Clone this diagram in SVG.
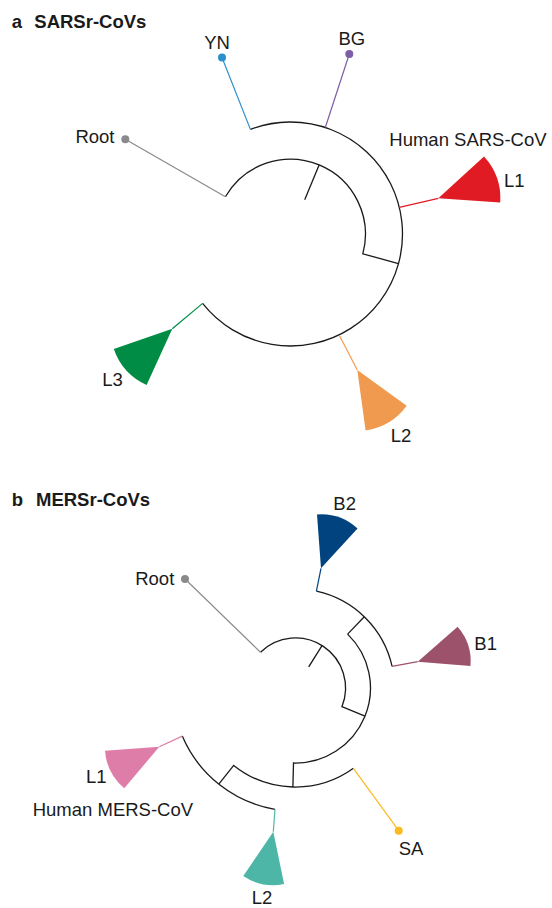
<svg xmlns="http://www.w3.org/2000/svg" width="552" height="908" viewBox="0 0 552 908">
<style>
text{font-family:"Liberation Sans",Arial,sans-serif;font-size:18.5px;fill:#1a1a1a}
.title{font-weight:bold}
.br{fill:none;stroke:#1a1a1a;stroke-width:1.3}
.ln{fill:none;stroke-width:1.2}
</style>
<rect width="552" height="908" fill="#fff"/>

<!-- Panel a -->
<g id="title-a"><text class="title" x="11.7" y="28.3">a</text><text class="title" x="34.3" y="28.3">SARSr-CoVs</text></g>
<g id="connectors-a">
<path class="br" d="M304.7,199.8 L319.2,164.7"/>
<path class="br" d="M225.4,196.8 A75,75 0 0 1 362.8,253.8 L398.5,263.6"/>
<path class="br" d="M250.4,129.4 A112,112 0 1 1 202.6,303.4"/>
<path class="ln" stroke="#8a8a8c" d="M225.4,196.8 L125.3,139.3"/>
<path class="ln" stroke="#2b8fcd" d="M250.4,129.4 L222,57.5"/>
<path class="ln" stroke="#7b5ea7" d="M325.3,127.5 L349.3,54"/>
<path class="ln" stroke="#e01b24" d="M399.3,207.3 L438.3,198.3"/>
<path class="ln" stroke="#f09a50" d="M339.3,335.3 L357.3,370"/>
<path class="ln" stroke="#008c45" d="M202.6,303.4 L172.3,328.7"/>
</g>
<g id="root-a"><circle cx="125.3" cy="139.3" r="4" fill="#8a8a8c"/><text x="114.5" y="143.3" text-anchor="end">Root</text></g>
<g id="yn"><circle cx="222" cy="57.5" r="4" fill="#2b8fcd"/><text x="217" y="49" text-anchor="middle">YN</text></g>
<g id="bg"><circle cx="349.3" cy="54" r="4" fill="#7b5ea7"/><text x="351.8" y="45" text-anchor="middle">BG</text></g>
<g id="l1-a"><path fill="#e01b24" d="M438.3,198.3 L484,156.4 A62,62 0 0 1 500.2,202.6 Z"/><text x="389.3" y="145.5">Human SARS-CoV</text><text x="504" y="187">L1</text></g>
<g id="l2-a"><path fill="#f09a50" d="M357.3,370 L406.7,405.8 A61,61 0 0 1 365.6,430.4 Z"/><text x="390.7" y="442.3">L2</text></g>
<g id="l3-a"><path fill="#008c45" d="M172.3,328.7 L146.6,385.1 A62,62 0 0 1 113.8,349.1 Z"/><text x="102.3" y="386">L3</text></g>

<!-- Panel b -->
<g id="title-b"><text class="title" x="11.7" y="506">b</text><text class="title" x="36" y="506">MERSr-CoVs</text></g>
<g id="connectors-b">
<path class="br" d="M308.7,666.8 L322,645.6"/>
<path class="br" d="M260.5,652.3 A50,50 0 0 1 341.9,706.7 L365,716.1"/>
<path class="br" d="M347.6,634.1 A75,75 0 0 1 293.5,763 L292.9,787"/>
<path class="br" d="M347.6,634.1 L364.3,616.8"/>
<path class="br" d="M316.4,591.2 A99,99 0 0 1 392.1,666.4"/>
<path class="br" d="M353.4,768.3 A99,99 0 0 1 233.7,765.4 L218.8,784.1"/>
<path class="br" d="M275,809.3 A123,123 0 0 1 182.3,736.1"/>
<path class="ln" stroke="#8a8a8c" d="M260.5,652.3 L185,579"/>
<path class="ln" stroke="#00437f" d="M316.4,591.2 L321,568.3"/>
<path class="ln" stroke="#9d526b" d="M392.1,666.4 L417.7,661.7"/>
<path class="ln" stroke="#fbba1e" d="M353.4,768.3 L398.7,830.7"/>
<path class="ln" stroke="#de7ea8" d="M182.3,736.1 L159.3,746.7"/>
<path class="ln" stroke="#4db6a7" d="M275,809.3 L273.3,831.7"/>
</g>
<g id="root-b"><circle cx="185" cy="579" r="4" fill="#8a8a8c"/><text x="174.3" y="585" text-anchor="end">Root</text></g>
<g id="b2"><path fill="#00437f" d="M321,568.3 L317,514.5 A54,54 0 0 1 357.5,528.5 Z"/><text x="333.3" y="510">B2</text></g>
<g id="b1"><path fill="#9d526b" d="M417.7,661.7 L457.6,626.8 A53,53 0 0 1 470.5,666 Z"/><text x="474.3" y="650">B1</text></g>
<g id="sa"><circle cx="398.7" cy="830.7" r="4" fill="#fbba1e"/><text x="398.7" y="855">SA</text></g>
<g id="l1-b"><path fill="#de7ea8" d="M159.3,746.7 L124.3,788.3 A54.4,54.4 0 0 1 105,750.7 Z"/><text x="86" y="783.3">L1</text><text x="32.7" y="815.7">Human MERS-CoV</text></g>
<g id="l2-b"><path fill="#4db6a7" d="M273.3,831.7 L284.1,884.1 A53.5,53.5 0 0 1 243.3,876 Z"/><text x="251.7" y="904">L2</text></g>
</svg>
